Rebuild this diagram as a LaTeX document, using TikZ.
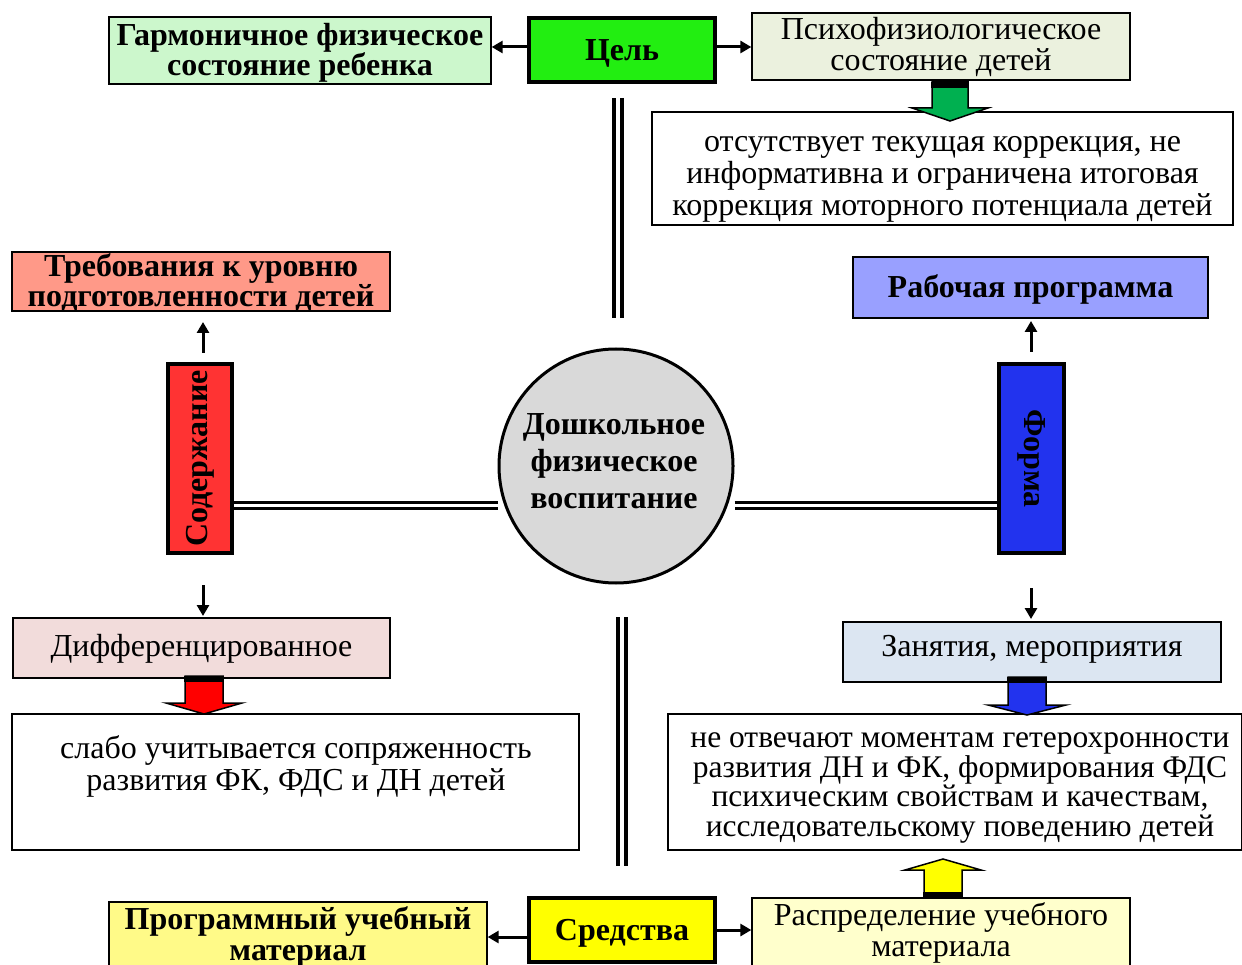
\documentclass[tikz,border=0pt]{standalone}
\usepackage{fontspec}
\setmainfont{Liberation Serif}
\usetikzlibrary{arrows.meta}
\definecolor{cgoal}{HTML}{22EE11}
\definecolor{charm}{HTML}{CCF7CC}
\definecolor{cpsy}{HTML}{EBF1DE}
\definecolor{ctreb}{HTML}{FF9988}
\definecolor{csod}{HTML}{FF3333}
\definecolor{crab}{HTML}{99A0FF}
\definecolor{cform}{HTML}{2233EE}
\definecolor{cdiff}{HTML}{F2DCDB}
\definecolor{czan}{HTML}{DCE6F2}
\definecolor{csred}{HTML}{FFFF00}
\definecolor{cprog}{HTML}{FFFA88}
\definecolor{craspr}{HTML}{FFFFCC}
\definecolor{ccirc}{HTML}{D9D9D9}
\definecolor{cgarrow}{HTML}{00B050}
\tikzset{
  lbox/.style={draw=black, line width=1.3pt, inner sep=0pt, align=center,
    font=\fontsize{32}{31}\selectfont},
  bbox/.style={lbox, font=\fontsize{32}{30}\selectfont\bfseries},
  kbox/.style={draw=black, line width=4pt, inner sep=0pt, align=center,
    font=\fontsize{32}{32}\selectfont\bfseries},
  txt/.style={inner sep=0pt, align=center, font=\fontsize{32}{32}\selectfont},
  arr/.style={line width=3pt, -{Triangle[length=11pt,width=12pt]}},
  dbl/.style={line width=3pt, double, double distance=3pt},
  dblv/.style={line width=4pt, double, double distance=4pt},
}
\newcommand{\blkdown}[7]{% cx, ytop, ybase, ytip, shafthalf, headhalf, color
  \filldraw[fill=#7, draw=black, line width=1.5pt]
    (#1-#5,#2) -- (#1-#5,#3) -- (#1-#6,#3) -- (#1,#4) -- (#1+#6,#3) -- (#1+#5,#3) -- (#1+#5,#2) -- cycle;
  \fill[black] (#1-#5-1,#2) rectangle (#1+#5+1,#2+6);
}
\newcommand{\blkup}[7]{% cx, ybottom, ybase, ytip, shafthalf, headhalf, color
  \filldraw[fill=#7, draw=black, line width=1.5pt]
    (#1-#5,#2) -- (#1-#5,#3) -- (#1-#6,#3) -- (#1,#4) -- (#1+#6,#3) -- (#1+#5,#3) -- (#1+#5,#2) -- cycle;
  \fill[black] (#1-#5-1,#2) rectangle (#1+#5+1,#2-6);
}
\begin{document}
\begin{tikzpicture}[x=1pt,y=-1pt]
\useasboundingbox (0,0) rectangle (1242,965);
% top row
\node[kbox, fill=cgoal, minimum width=186pt, minimum height=64pt] (goal) at (622,50.5) {};
\node[txt, font=\fontsize{32}{32}\selectfont\bfseries] (goalt) at (622,53) {Цель};
\node[bbox, fill=charm, minimum width=382pt, minimum height=67pt] (harm) at (300,50.5) {};
\node[txt, font=\fontsize{32}{30}\selectfont\bfseries] (harmt) at (300,53) {Гармоничное физическое\\состояние ребенка};
\node[lbox, fill=cpsy, minimum width=378pt, minimum height=67pt] (psy) at (941,46.5) {Психофизиологическое\\состояние детей};
\coordinate (g1) at (goal.west |- 0,47);
\coordinate (g2) at (goal.east |- 0,47);
\draw[arr] (g1) -- (g1 -| harm.east);
\draw[arr] (g2) -- (g2 -| psy.west);
\node[lbox, fill=white, minimum width=581pt, minimum height=113pt] (ots) at (942.5,168.5) {};
\node[txt] (otst) at (942.5,179) {отсутствует текущая коррекция, не\\информативна и ограничена итоговая\\коррекция моторного потенциала детей};
\blkdown{950}{82}{108}{121}{18}{38}{cgarrow}
% center circle
\node[circle, draw=black, line width=3pt, fill=ccirc, minimum size=234pt, inner sep=0pt] (circ) at (616,466) {};
\node[txt, font=\fontsize{32}{37}\selectfont\bfseries] (circt) at (614,461) {Дошкольное\\физическое\\воспитание};
\coordinate (vt1) at (618,98);
\coordinate (vt2) at (618,318);
\draw[dblv] (vt1) -- (vt2);
\coordinate (vb1) at (622,617);
\coordinate (vb2) at (622,866);
\draw[dblv] (vb1) -- (vb2);
% left
\node[kbox, fill=csod, minimum width=64pt, minimum height=189pt] (sod) at (200,458.5) {};
\node[rotate=90, font=\fontsize{32}{32}\selectfont\bfseries] (sodt) at (sod.center) {Содержание};
\draw[dbl] (sod.east |- 0,505) -- (circ.west |- 0,505);
\node[bbox, fill=ctreb, minimum width=378pt, minimum height=59pt] (treb) at (201,281.5) {};
\node[txt, font=\fontsize{32}{30}\selectfont\bfseries] (trebt) at (201,283) {Требования к уровню\\подготовленности детей};
\coordinate (sc) at (203,353);
\coordinate (sd) at (203,322);
\draw[arr] (sc) -- (sd);
\node[lbox, fill=cdiff, minimum width=377pt, minimum height=60pt] (diff) at (201.5,648) {};
\node[txt] (difft) at (201.5,649) {Дифференцированное};
\coordinate (sa) at (203,585);
\coordinate (sb) at (203,616);
\draw[arr] (sa) -- (sb);
\node[lbox, fill=white, minimum width=567pt, minimum height=136pt] (slabo) at (295.5,782) {};
\node[txt] (slabot) at (296,766) {слабо учитывается сопряженность\\развития ФК, ФДС и ДН детей};
\blkdown{204}{676}{703}{714}{19}{38}{red}
% right
\node[kbox, fill=cform, minimum width=65pt, minimum height=189pt] (form) at (1031.5,458.5) {};
\node[rotate=-90, font=\fontsize{32}{32}\selectfont\bfseries] (formt) at (form.center) {Форма};
\draw[dbl] (circ.east |- 0,505) -- (form.west |- 0,505);
\node[bbox, fill=crab, minimum width=355pt, minimum height=61pt] (rab) at (1030.5,287.5) {};
\node[txt, font=\fontsize{32}{32}\selectfont\bfseries] (rabt) at (1030.5,289) {Рабочая программа};
\coordinate (fa) at (1031,352);
\coordinate (fb) at (1031,321);
\draw[arr] (fa) -- (fb);
\node[lbox, fill=czan, minimum width=378pt, minimum height=60pt] (zan) at (1032,652) {};
\node[txt] (zant) at (1032,649) {Занятия, мероприятия};
\coordinate (fc) at (1031,588);
\coordinate (fd) at (1031,619);
\draw[arr] (fc) -- (fd);
\node[lbox, fill=white, minimum width=574pt, minimum height=136pt] (neotv) at (955,782) {};
\node[txt, font=\fontsize{31.5}{29.5}\selectfont] (neotvt) at (960,788) {не отвечают моментам гетерохронности\\развития ДН и ФК, формирования ФДС\\психическим свойствам и качествам,\\исследовательскому поведению детей};
\blkdown{1027}{677}{705}{715}{19}{39}{cform}
% bottom row
\node[kbox, fill=csred, minimum width=186pt, minimum height=64pt] (sred) at (622,930) {};
\node[txt, font=\fontsize{32}{32}\selectfont\bfseries] (sredt) at (622,933) {Средства};
\node[bbox, fill=cprog, minimum width=378pt, minimum height=70pt] (prog) at (298,937) {};
\node[txt, font=\fontsize{32}{31}\selectfont\bfseries] (progt) at (298,937) {Программный учебный\\материал};
\node[lbox, fill=craspr, minimum width=378pt, minimum height=70pt] (raspr) at (941,933) {};
\node[txt, font=\fontsize{32}{31}\selectfont] (rasprt) at (941,933) {Распределение учебного\\материала};
\coordinate (s1) at (sred.west |- 0,937);
\coordinate (s2) at (sred.east |- 0,930);
\draw[arr] (s1) -- (s1 -| prog.east);
\draw[arr] (s2) -- (s2 -| raspr.west);
\blkup{943}{898}{870}{859}{19}{38}{csred}
\end{tikzpicture}
\end{document}
